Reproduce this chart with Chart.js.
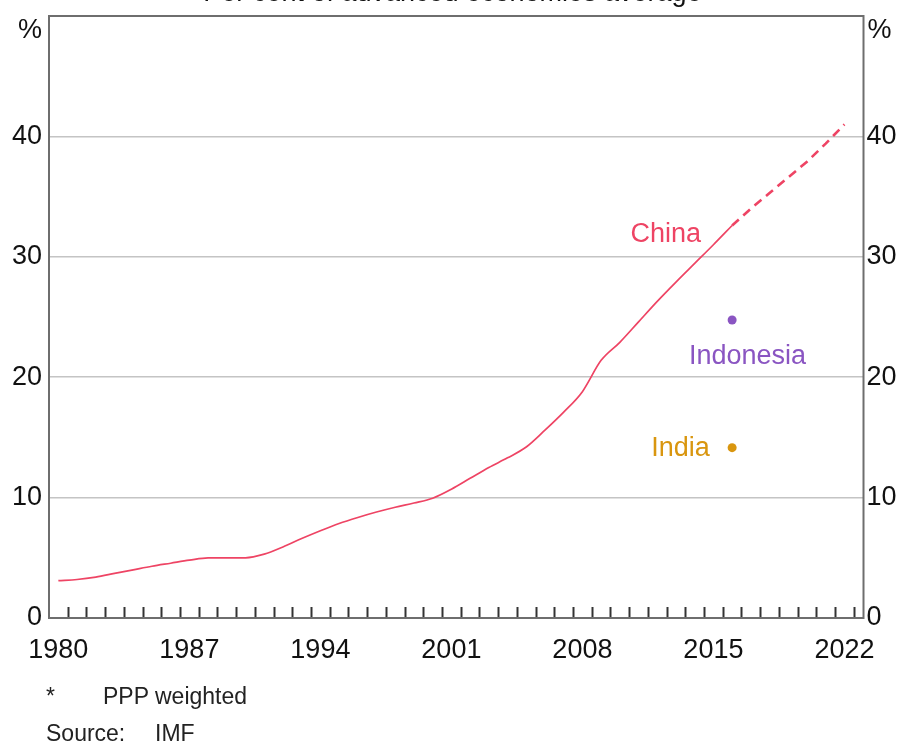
<!DOCTYPE html>
<html>
<head>
<meta charset="utf-8">
<script src="https://cdn.jsdelivr.net/npm/chart.js@4/dist/chart.umd.min.js"></script>
<style>
  html, body { margin: 0; padding: 0; background: #fff; }
  #wrap { position: relative; width: 905px; height: 743px; overflow: hidden; }
  #chart { position: absolute; left: 0; top: 0; }
  .note { position: absolute; font-family: 'Liberation Sans', Arial, sans-serif; font-size: 23px; color: #222; white-space: nowrap; }
</style>
</head>
<body>
<div id="wrap">
  <canvas id="chart" width="905" height="743"></canvas>
  <div class="note" style="left:46px; top:683px;">*</div>
  <div class="note" style="left:103px; top:683px;">PPP weighted</div>
  <div class="note" style="left:46px; top:720px;">Source:</div>
  <div class="note" style="left:155px; top:720px;">IMF</div>
</div>
<script>
// China GDP per capita, per cent of advanced economies average (PPP weighted)
const actualYears = [1980, 1981, 1982, 1983, 1984, 1985, 1986, 1987, 1988, 1989,
  1990, 1991, 1992, 1993, 1994, 1995, 1996, 1997, 1998, 1999,
  2000, 2001, 2002, 2003, 2004, 2005, 2006, 2007, 2008, 2009,
  2010, 2011, 2012, 2013, 2014, 2015, 2016];
const chinaActual = [3.1, 3.2, 3.4, 3.7, 4.0, 4.3, 4.55, 4.8, 5.0, 5.0,
  5.0, 5.3, 5.9, 6.6, 7.25, 7.85, 8.35, 8.8, 9.2, 9.55,
  9.95, 10.7, 11.6, 12.5, 13.3, 14.2, 15.6, 17.1, 18.8, 21.4,
  22.9, 24.6, 26.3, 27.9, 29.45, 31.0, 32.6];

const forecastYears = [2016, 2017, 2018, 2019, 2020, 2021, 2022];
const chinaForecast = [32.6, 34.0, 35.3, 36.6, 37.9, 39.4, 41.0];

const pointYear = 2016;
const indonesiaValue = 24.75;
const indiaValue = 14.15;

const xLabelYears = [1980, 1987, 1994, 2001, 2008, 2015, 2022];
const yTickValues = [0, 10, 20, 30, 40];

const FONT = "'Liberation Sans', Arial, sans-serif";
const RED = '#ee4464';
const PURPLE = '#8a55c2';
const GOLD = '#d9960f';

// annual values sit mid-year on the axis
const mid = y => y + 0.5;
const toXY = (years, vals) => years.map((y, i) => ({ x: mid(y), y: vals[i] }));

// extra drawing: frame, inward year ticks, unit labels, series labels, title
const decorations = {
  id: 'decorations',
  afterDraw(chart) {
    const { ctx, chartArea: a, scales } = chart;
    const xs = scales.x, ys = scales.y;
    ctx.save();

    // year tick marks pointing up from the bottom axis
    ctx.strokeStyle = '#333';
    ctx.lineWidth = 2;
    for (let yr = 1981; yr <= 2023; yr++) {
      const px = Math.round(xs.getPixelForValue(yr)) + 0.5;
      ctx.beginPath();
      ctx.moveTo(px, a.bottom);
      ctx.lineTo(px, a.bottom - 11);
      ctx.stroke();
    }

    // frame
    ctx.strokeStyle = '#6e6e6e';
    ctx.lineWidth = 2;
    ctx.strokeRect(a.left, a.top, a.right - a.left, a.bottom - a.top);

    // % units
    ctx.fillStyle = '#111';
    ctx.font = '27px ' + FONT;
    ctx.textBaseline = 'middle';
    const unitY = ys.getPixelForValue(50) + 15;
    ctx.textAlign = 'right';
    ctx.fillText('%', a.left - 7, unitY);
    ctx.textAlign = 'left';
    ctx.fillText('%', a.right + 4, unitY);

    // series labels
    ctx.textAlign = 'center';
    ctx.fillStyle = RED;
    ctx.fillText('China', xs.getPixelForValue(2012.96), ys.getPixelForValue(31.85));
    ctx.fillStyle = PURPLE;
    ctx.fillText('Indonesia', xs.getPixelForValue(2017.32), ys.getPixelForValue(21.75));
    ctx.fillStyle = GOLD;
    ctx.fillText('India', xs.getPixelForValue(2013.74), ys.getPixelForValue(14.05));

    // title, cut at the top edge as in the source
    ctx.fillStyle = '#111';
    ctx.textBaseline = 'alphabetic';
    ctx.fillText('Per cent of advanced economies average', chart.width / 2, 1);

    ctx.restore();
  }
};

Chart.defaults.font.family = FONT;
Chart.defaults.font.size = 27;
Chart.defaults.color = '#111';

const fitY = width => s => { s.width = width; s.paddingTop = 0; s.paddingBottom = 0; };

new Chart(document.getElementById('chart'), {
  type: 'line',
  data: {
    datasets: [
      {
        label: 'China',
        data: toXY(actualYears, chinaActual),
        borderColor: RED,
        borderWidth: 1.7,
        pointRadius: 0,
        cubicInterpolationMode: 'monotone',
        yAxisID: 'y'
      },
      {
        label: 'China forecast',
        data: toXY(forecastYears, chinaForecast),
        borderColor: RED,
        borderWidth: 2.6,
        borderDash: [9, 6],
        pointRadius: 0,
        yAxisID: 'y'
      },
      {
        label: 'Indonesia',
        data: [{ x: mid(pointYear), y: indonesiaValue }],
        showLine: false,
        pointRadius: 4.5,
        pointBackgroundColor: PURPLE,
        pointBorderWidth: 0,
        yAxisID: 'y'
      },
      {
        label: 'India',
        data: [{ x: mid(pointYear), y: indiaValue }],
        showLine: false,
        pointRadius: 4.5,
        pointBackgroundColor: GOLD,
        pointBorderWidth: 0,
        yAxisID: 'y'
      }
    ]
  },
  options: {
    responsive: false,
    animation: false,
    layout: { padding: { top: 16, bottom: 75, left: 0, right: 0 } },
    scales: {
      x: {
        type: 'linear',
        min: 1980,
        max: 2023.52,
        afterBuildTicks: s => { s.ticks = xLabelYears.map(v => ({ value: mid(v) })); },
        afterFit: s => { s.height = 50; },
        ticks: {
          color: '#111',
          padding: 8,
          maxRotation: 0,
          autoSkip: false,
          callback: v => String(Math.floor(v))
        },
        grid: { display: false },
        border: { display: false }
      },
      y: {
        position: 'left',
        min: 0,
        max: 50,
        afterBuildTicks: s => { s.ticks = yTickValues.map(v => ({ value: v })); },
        afterFit: fitY(49),
        ticks: { color: '#111', padding: 7 },
        grid: { color: '#c4c4c4', lineWidth: 1.5, drawTicks: false },
        border: { display: false }
      },
      y2: {
        position: 'right',
        min: 0,
        max: 50,
        afterBuildTicks: s => { s.ticks = yTickValues.map(v => ({ value: v })); },
        afterFit: fitY(41.5),
        ticks: { color: '#111', padding: 3 },
        grid: { display: false, drawTicks: false },
        border: { display: false }
      }
    },
    plugins: {
      legend: { display: false },
      tooltip: { enabled: false }
    }
  },
  plugins: [decorations]
});
</script>
</body>
</html>
